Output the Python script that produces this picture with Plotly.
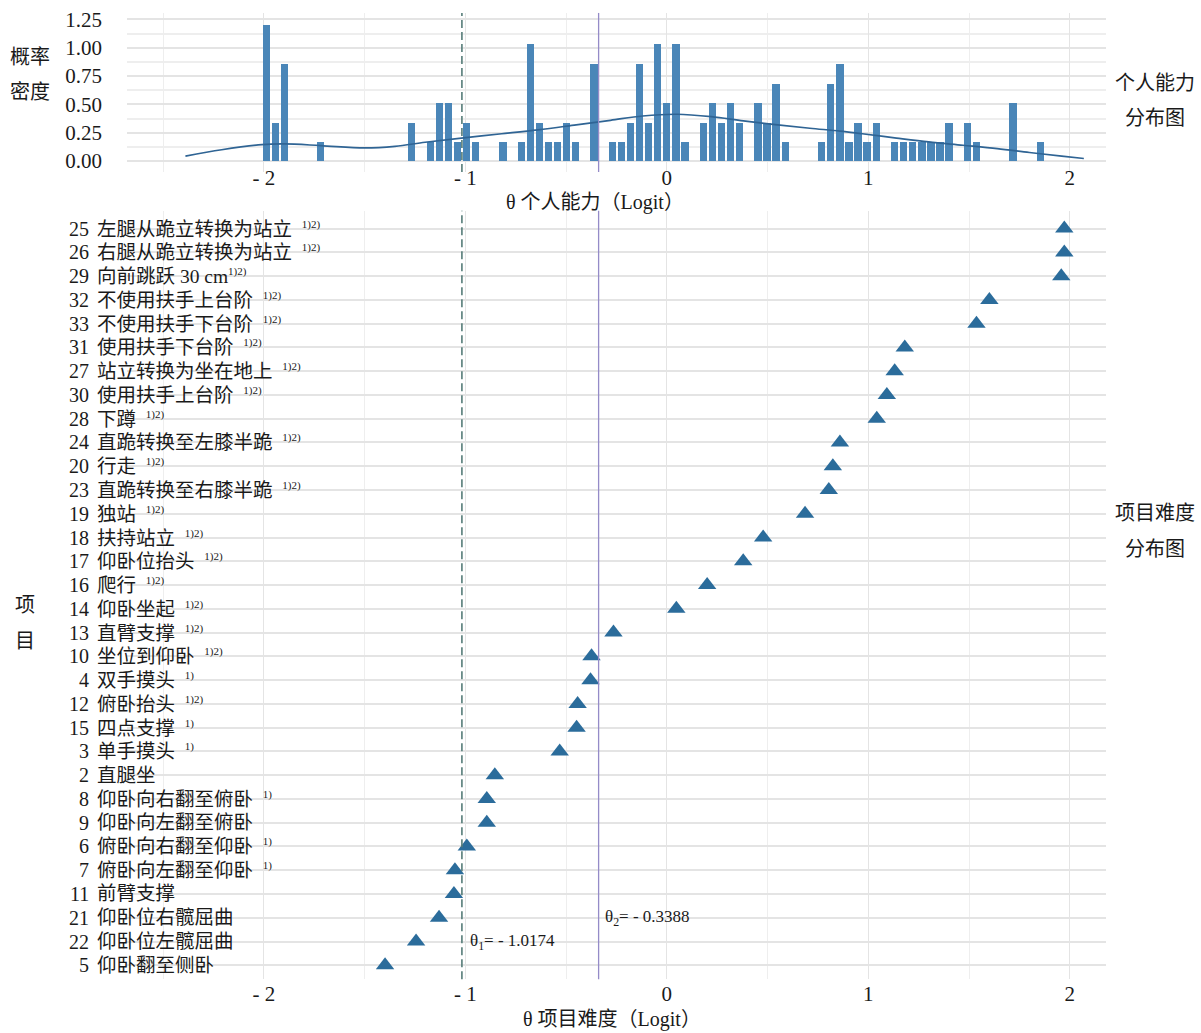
import plotly.graph_objects as go

# ---------------- data ----------------
# Top panel: person ability histogram (bin centres, density) and density curve
hist_x = [-1.989, -1.944, -1.898, -1.718, -1.266, -1.175, -1.130, -1.085, -1.040, -0.994,
          -0.949, -0.814, -0.723, -0.678, -0.633, -0.588, -0.542, -0.497, -0.452, -0.362,
          -0.271, -0.226, -0.181, -0.136, -0.090, -0.045, 0.000, 0.045, 0.090, 0.181,
          0.226, 0.271, 0.316, 0.362, 0.452, 0.497, 0.542, 0.588, 0.768, 0.814,
          0.859, 0.904, 0.949, 0.994, 1.040, 1.130, 1.175, 1.220, 1.266, 1.311,
          1.356, 1.401, 1.492, 1.537, 1.718, 1.853]
hist_density = [1.20, 0.34, 0.86, 0.17, 0.34, 0.17, 0.51, 0.51, 0.17, 0.34,
                0.17, 0.17, 0.17, 1.03, 0.34, 0.17, 0.17, 0.34, 0.17, 0.86,
                0.17, 0.17, 0.34, 0.86, 0.34, 1.03, 0.51, 1.03, 0.17, 0.34,
                0.51, 0.34, 0.51, 0.34, 0.51, 0.34, 0.68, 0.17, 0.17, 0.68,
                0.86, 0.17, 0.34, 0.17, 0.34, 0.17, 0.17, 0.17, 0.17, 0.17,
                0.17, 0.34, 0.34, 0.17, 0.51, 0.17]
kde_x = [-2.39, -2.21, -2.01, -1.90, -1.72, -1.50, -1.35, -1.20, -1.02, -0.82,
         -0.64, -0.45, -0.28, -0.12, 0.05, 0.22, 0.38, 0.55, 0.71, 0.86,
         0.97, 1.14, 1.30, 1.47, 1.64, 1.80, 1.96, 2.07]
kde_y = [0.044, 0.100, 0.145, 0.151, 0.137, 0.116, 0.130, 0.166, 0.203, 0.241,
         0.276, 0.320, 0.360, 0.398, 0.413, 0.392, 0.355, 0.320, 0.290, 0.265,
         0.241, 0.203, 0.169, 0.140, 0.110, 0.076, 0.044, 0.023]

# Bottom panel: item difficulty (top to bottom order)
item_ids = ["25", "26", "29", "32", "33", "31", "27", "30", "28", "24", "20", "23",
            "19", "18", "17", "16", "14", "13", "10", "4", "12", "15", "3", "2",
            "8", "9", "6", "7", "11", "21", "22", "5"]
item_names = ["左腿从跪立转换为站立", "右腿从跪立转换为站立", "向前跳跃 30 cm",
              "不使用扶手上台阶", "不使用扶手下台阶", "使用扶手下台阶",
              "站立转换为坐在地上", "使用扶手上台阶", "下蹲", "直跪转换至左膝半跪",
              "行走", "直跪转换至右膝半跪", "独站", "扶持站立", "仰卧位抬头", "爬行",
              "仰卧坐起", "直臂支撑", "坐位到仰卧", "双手摸头", "俯卧抬头", "四点支撑",
              "单手摸头", "直腿坐", "仰卧向右翻至俯卧", "仰卧向左翻至俯卧",
              "俯卧向右翻至仰卧", "俯卧向左翻至仰卧", "前臂支撑", "仰卧位右髋屈曲",
              "仰卧位左髋屈曲", "仰卧翻至侧卧"]
item_notes = ["1)2)", "1)2)", "1)2)", "1)2)", "1)2)", "1)2)", "1)2)", "1)2)", "1)2)",
              "1)2)", "1)2)", "1)2)", "1)2)", "1)2)", "1)2)", "1)2)", "1)2)", "1)2)",
              "1)2)", "1)", "1)2)", "1)", "1)", "", "1)", "", "1)", "1)", "", "", "", ""]
item_difficulty = [1.973, 1.973, 1.958, 1.601, 1.537, 1.181, 1.131, 1.092, 1.042,
                   0.859, 0.824, 0.804, 0.686, 0.478, 0.379, 0.200, 0.047, -0.265,
                   -0.374, -0.379, -0.443, -0.448, -0.532, -0.854, -0.894, -0.894,
                   -0.993, -1.052, -1.057, -1.131, -1.245, -1.399]

theta1 = -1.0174
theta2 = -0.3388
x_tickvals = [-2, -1, 0, 1, 2]
x_ticktext = ["- 2", "- 1", "0", "1", "2"]
y_tickvals = [0, 0.25, 0.5, 0.75, 1.0, 1.25]
y_ticktext = ["0.00", "0.25", "0.50", "0.75", "1.00", "1.25"]

# ---------------- layout helpers ----------------
W, H = 1201, 1033
def fx(px):
    return px / W
def fy(py):
    return 1 - py / H

FONT = "Liberation Serif, Times New Roman, Noto Sans CJK SC, serif"
BAR_C = "#4a86b8"
TRI_C = "#2b6c9b"
LINE_C = "#2f6494"
GRID = "#e4e4e4"
GRID_MINOR = "#eeeeee"

fig = go.Figure()
fig.add_trace(go.Bar(x=hist_x, y=hist_density, width=0.036, marker_color=BAR_C,
                     marker_line_width=0, xaxis="x", yaxis="y", showlegend=False))
fig.add_trace(go.Scatter(x=kde_x, y=kde_y, mode="lines", line=dict(color=LINE_C, width=1.7,
                         shape="spline"), xaxis="x", yaxis="y", showlegend=False))
fig.add_trace(go.Scatter(x=item_difficulty, y=item_ids, mode="markers",
                         marker=dict(symbol="triangle-up", size=16, color=TRI_C),
                         xaxis="x2", yaxis="y2", showlegend=False))

xr = [-2.68, 2.18]
common_x = dict(range=xr, tickvals=x_tickvals, ticktext=x_ticktext, showgrid=True,
                gridcolor=GRID, gridwidth=1.3, zeroline=False, showline=False,
                tickfont=dict(family=FONT, size=21, color="#1a1a1a"),
                minor=dict(dtick=0.5, tick0=0, showgrid=True, gridcolor=GRID_MINOR, gridwidth=1.2),
                fixedrange=True)

fig.update_layout(
    width=W, height=H, margin=dict(l=0, r=0, t=0, b=0),
    paper_bgcolor="white", plot_bgcolor="white", bargap=0,
    font=dict(family=FONT, size=20, color="#1a1a1a"),
    xaxis=dict(domain=[fx(127), fx(1106)], anchor="y", **common_x),
    yaxis=dict(domain=[fy(168), fy(8)], range=[-0.0965, 1.307], anchor="x",
               tickvals=y_tickvals, ticktext=y_ticktext, showgrid=True, gridcolor=GRID,
               gridwidth=1.5, zeroline=False, showline=False, ticklabelstandoff=24,
               tickfont=dict(family=FONT, size=21, color="#1a1a1a"),
               minor=dict(dtick=0.125, tick0=0, showgrid=True, gridcolor=GRID_MINOR, gridwidth=1.5)),
    xaxis2=dict(domain=[fx(127), fx(1106)], anchor="y2", **common_x),
    yaxis2=dict(domain=[fy(980), fy(207)], anchor="x2", type="category",
                categoryorder="array", categoryarray=item_ids,
                range=[len(item_ids) - 1 + 0.59, -0.75], showgrid=True, gridcolor=GRID,
                gridwidth=1.5, showticklabels=False, zeroline=False, showline=False),
)
fig.layout.xaxis.ticklabelstandoff = -9

shapes = []
for xref, yref in [("x", "y domain"), ("x2", "y2 domain")]:
    shapes.append(dict(type="line", xref=xref, yref=yref,
                       x0=theta1, x1=theta1, y0=0, y1=1,
                       line=dict(color="#557c78", width=1.6, dash="8px,4px")))
    shapes.append(dict(type="line", xref=xref, yref=yref,
                       x0=theta2, x1=theta2, y0=0, y1=1,
                       line=dict(color="#958bc8", width=1.3)))
fig.update_layout(shapes=shapes)

ann = []
def txt(x, y, s, size=20, xanchor="center", xref="paper", yref="paper"):
    ann.append(dict(x=x, y=y, xref=xref, yref=yref, text=s, showarrow=False,
                    xanchor=xanchor, yanchor="middle",
                    font=dict(family=FONT, size=size, color="#1a1a1a")))

txt(fx(30), fy(52), "概率")
txt(fx(30), fy(88), "密度")
txt(fx(1155), fy(78), "个人能力")
txt(fx(1155), fy(114), "分布图")
txt(fx(1155), fy(511), "项目难度")
txt(fx(1155), fy(547), "分布图")
txt(fx(25), fy(604), "项")
txt(fx(25), fy(640), "目")
txt(fx(595), fy(199), "θ 个人能力（Logit）")
txt(fx(612), fy(1020), "θ 项目难度（Logit）")

# item labels: annotation y uses the category index on the categorical axis
for i, (iid, name, note) in enumerate(zip(item_ids, item_names, item_notes)):
    txt(fx(91), i, iid, size=20, xanchor="right", yref="y2")
    if note:
        sep = "" if name.endswith("cm") else "&nbsp;&nbsp;"
        s = f"{name}{sep}<sup><span style='font-size:11px'>{note}</span></sup>"
    else:
        s = name
    txt(fx(95), i, s, size=19.5, xanchor="left", yref="y2")

# threshold labels
txt(-0.985, item_ids.index("22"), "θ<sub>1</sub>= - 1.0174", size=17, xanchor="left",
    xref="x2", yref="y2")
txt(-0.318, item_ids.index("21"), "θ<sub>2</sub>= - 0.3388", size=17, xanchor="left",
    xref="x2", yref="y2")

fig.update_layout(annotations=ann)

fig.write_html("out.html", config={"displayModeBar": False},
               post_script="document.body.style.margin='0px';")
